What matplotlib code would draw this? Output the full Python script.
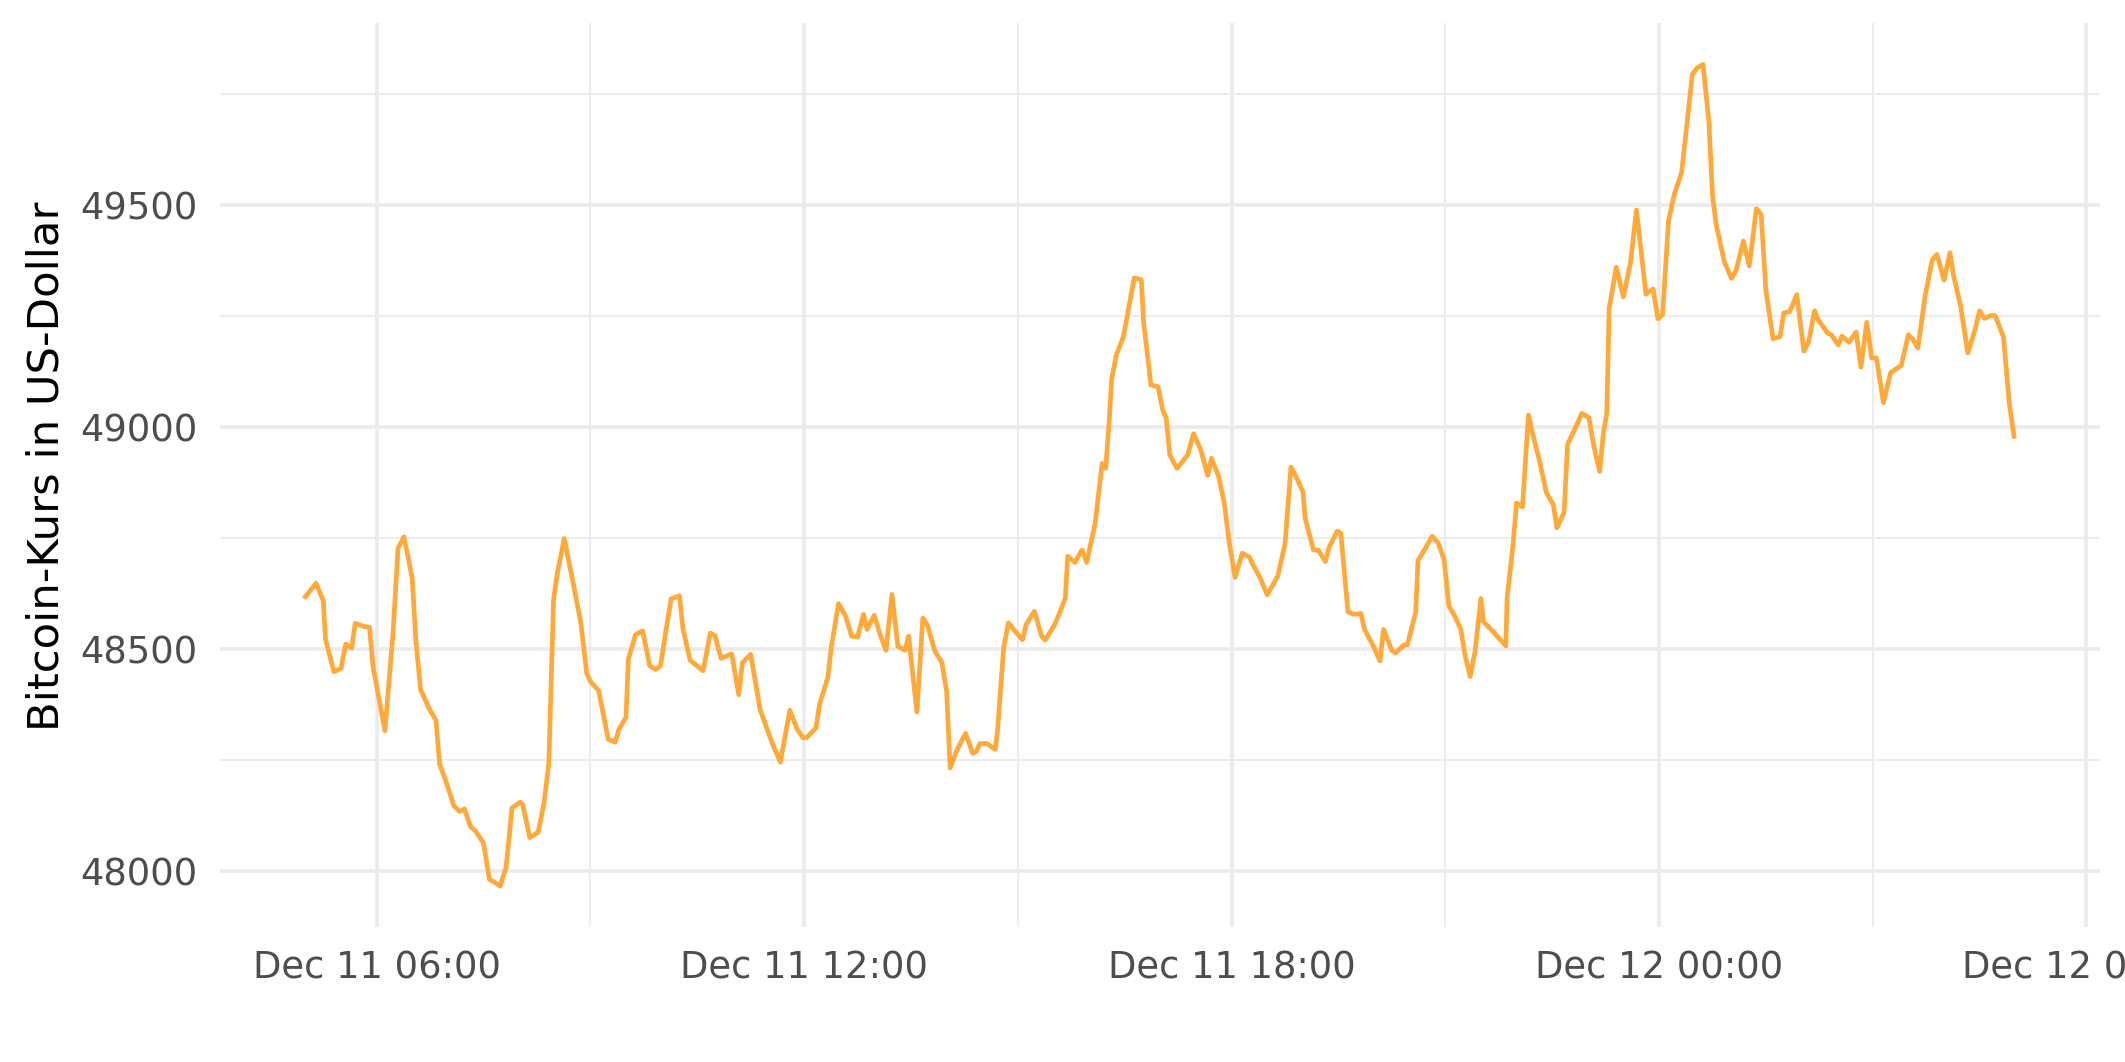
import pandas as pd
import matplotlib.pyplot as plt
import matplotlib.dates as mdates

# -------- data --------
day1_times = [
    "05:00", "05:09", "05:15", "05:17", "05:24", "05:30", "05:34", "05:39", "05:42", "05:49",
    "05:54", "05:57", "06:07", "06:14", "06:18", "06:23", "06:30", "06:33", "06:37", "06:44",
    "06:50", "06:53", "06:58", "07:05", "07:10", "07:14", "07:19", "07:23", "07:30", "07:35",
    "07:39", "07:44", "07:49", "07:54", "08:01", "08:03", "08:09", "08:16", "08:21", "08:25",
    "08:29", "08:32", "08:38", "08:45", "08:52", "08:57", "09:00", "09:07", "09:15", "09:21",
    "09:24", "09:30", "09:32", "09:38", "09:44", "09:50", "09:55", "09:59", "10:03", "10:08",
    "10:15", "10:18", "10:24", "10:28", "10:35", "10:41", "10:45", "10:50", "10:59", "11:05",
    "11:08", "11:15", "11:23", "11:33", "11:40", "11:48", "11:54", "11:59", "12:02", "12:10",
    "12:13", "12:20", "12:23", "12:29", "12:35", "12:40", "12:45", "12:50", "12:53", "12:59",
    "13:04", "13:09", "13:14", "13:19", "13:25", "13:28", "13:35", "13:40", "13:44", "13:50",
    "13:56", "14:00", "14:03", "14:09", "14:16", "14:22", "14:25", "14:28", "14:34", "14:41",
    "14:43", "14:48", "14:52", "14:58", "15:04", "15:07", "15:14", "15:20", "15:23", "15:31",
    "15:35", "15:40", "15:42", "15:48", "15:54", "15:58", "16:05", "16:11", "16:14", "16:17",
    "16:19", "16:23", "16:29", "16:38", "16:44", "16:46", "16:50", "16:52", "16:58", "17:02",
    "17:05", "17:08", "17:14", "17:23", "17:28", "17:34", "17:40", "17:43", "17:49", "17:54",
    "17:58", "18:03", "18:09", "18:15", "18:19", "18:24", "18:30", "18:39", "18:45", "18:50",
    "18:54", "19:00", "19:02", "19:09", "19:13", "19:19", "19:22", "19:29", "19:32", "19:38",
    "19:43", "19:49", "19:52", "19:59", "20:05", "20:08", "20:15", "20:18", "20:25", "20:28",
    "20:35", "20:37", "20:43", "20:49", "20:54", "20:59", "21:03", "21:08", "21:13", "21:17",
    "21:21", "21:25", "21:30", "21:32", "21:41", "21:51", "21:52", "21:57", "22:00", "22:05",
    "22:10", "22:14", "22:19", "22:25", "22:31", "22:34", "22:40", "22:43", "22:49", "22:55",
    "23:01", "23:05", "23:10", "23:13", "23:16", "23:18", "23:24", "23:30", "23:36", "23:41",
    "23:49", "23:55", "23:59",
]
day1_prices = [
    48617, 48647, 48608, 48520, 48448, 48455, 48510, 48501, 48557, 48550,
    48548, 48459, 48315, 48542, 48726, 48752, 48658, 48520, 48408, 48366,
    48338, 48240, 48204, 48146, 48133, 48139, 48099, 48090, 48062, 47980,
    47974, 47965, 48006, 48141, 48154, 48149, 48074, 48086, 48152, 48242,
    48610, 48667, 48748, 48655, 48557, 48444, 48426, 48405, 48296, 48289,
    48318, 48345, 48476, 48531, 48540, 48461, 48453, 48461, 48529, 48612,
    48619, 48544, 48474, 48465, 48450, 48535, 48529, 48478, 48488, 48396,
    48468, 48487, 48362, 48288, 48244, 48361, 48319, 48299, 48299, 48321,
    48374, 48435, 48505, 48601, 48573, 48528, 48526, 48577, 48543, 48575,
    48532, 48496, 48622, 48505, 48496, 48528, 48357, 48569, 48552, 48495,
    48469, 48404, 48231, 48273, 48309, 48264, 48268, 48286, 48286, 48273,
    48318, 48500, 48558, 48538, 48520, 48554, 48584, 48528, 48519, 48554,
    48579, 48614, 48708, 48694, 48722, 48694, 48780, 48917, 48906, 49015,
    49107, 49162, 49203, 49335, 49331, 49233, 49143, 49094, 49090, 49038,
    49019, 48936, 48906, 48936, 48984, 48948, 48890, 48929, 48889, 48826,
    48739, 48660, 48715, 48706, 48684, 48660, 48621, 48664, 48735, 48909,
    48889, 48854, 48794, 48722, 48722, 48696, 48727, 48765, 48760, 48583,
    48577, 48579, 48543, 48508, 48472, 48543, 48496, 48490, 48508, 48508,
    48581, 48698, 48725, 48753, 48738, 48700, 48596, 48573, 48544, 48480,
    48437, 48493, 48613, 48561, 48536, 48506, 48613, 48733, 48828, 48819,
    49026, 48979, 48927, 48852, 48824, 48772, 48807, 48960, 48994, 49030,
    49020, 48957, 48899, 48983, 49030, 49267, 49359, 49292, 49370, 49488,
    49298, 49310, 49243,
]
day2_times = [
    "00:03", "00:08", "00:13", "00:19", "00:28", "00:32", "00:37", "00:42", "00:45", "00:48",
    "00:55", "01:01", "01:05", "01:11", "01:16", "01:22", "01:26", "01:30", "01:36", "01:42",
    "01:45", "01:50", "01:56", "02:02", "02:06", "02:11", "02:14", "02:22", "02:25", "02:31",
    "02:34", "02:40", "02:46", "02:50", "02:55", "02:59", "03:03", "03:09", "03:15", "03:18",
    "03:24", "03:30", "03:34", "03:38", "03:44", "03:50", "03:54", "04:00", "04:05", "04:08",
    "04:14", "04:20", "04:26", "04:30", "04:34", "04:39", "04:43", "04:50", "04:55", "04:59",
]
day2_prices = [
    49252, 49464, 49525, 49572, 49793, 49808, 49816, 49687, 49522, 49457,
    49371, 49334, 49353, 49418, 49362, 49491, 49478, 49306, 49198, 49203,
    49256, 49259, 49297, 49170, 49192, 49261, 49241, 49211, 49207, 49184,
    49204, 49190, 49213, 49134, 49235, 49155, 49155, 49054, 49121, 49127,
    49138, 49207, 49196, 49177, 49293, 49375, 49388, 49330, 49392, 49341,
    49272, 49166, 49218, 49261, 49244, 49250, 49250, 49203, 49052, 48978,
]

y_ticks = [48000, 48500, 49000, 49500]
y_minor = [48250, 48750, 49250, 49750]
x_ticks = pd.date_range("2021-12-11 06:00", periods=5, freq="6h")
x_minor = pd.date_range("2021-12-11 09:00", periods=4, freq="6h")

times = pd.to_datetime(["2021-12-11 " + t for t in day1_times] +
                       ["2021-12-12 " + t for t in day2_times])
prices = day1_prices + day2_prices

# -------- plot --------
fig, ax = plt.subplots(figsize=(10.625, 5.31), dpi=200)
fig.subplots_adjust(left=0.1035, right=0.988, top=0.978, bottom=0.127)

ax.plot(times, prices, color="#FFA93A", linewidth=1.7, zorder=3)
ax.margins(x=0.05, y=0.05)

ax.set_yticks(y_ticks)
ax.set_yticks(y_minor, minor=True)
ax.set_xticks(x_ticks)
ax.set_xticks(x_minor, minor=True)
ax.xaxis.set_major_formatter(mdates.DateFormatter("%b %d %H:%M"))

ax.grid(which="major", color="#EBEBEB", linewidth=1.3)
ax.grid(which="minor", color="#EBEBEB", linewidth=0.65)
ax.set_axisbelow(True)
for s in ax.spines.values():
    s.set_visible(False)
ax.tick_params(which="both", length=0)
ax.tick_params(axis="y", labelsize=13.3, labelcolor="#4D4D4D", pad=8)
ax.tick_params(axis="x", labelsize=13.3, labelcolor="#4D4D4D", pad=8)

ax.set_ylabel("Bitcoin-Kurs in US-Dollar", fontsize=15.6, color="black")
ax.yaxis.set_label_coords(-0.081, 0.51)

fig.savefig("out.png", dpi=200, facecolor="white")
